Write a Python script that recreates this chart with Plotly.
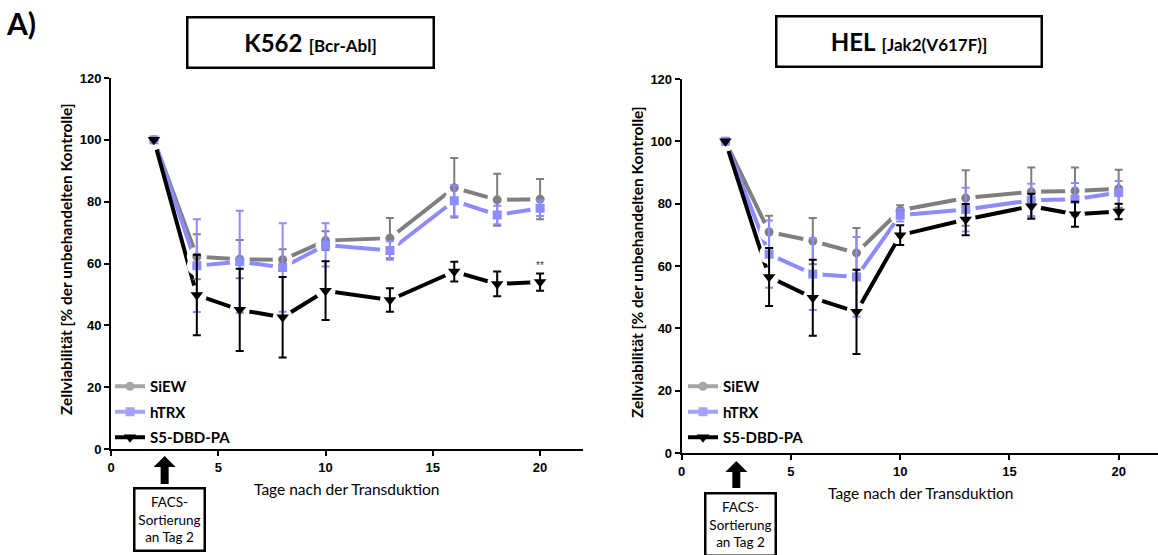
import plotly.graph_objects as go

# --- data -----------------------------------------------------------------
days = [2, 4, 6, 8, 10, 13, 16, 18, 20]
series_names = ["SiEW", "hTRX", "S5-DBD-PA"]

# K562 [Bcr-Abl]
k562_siew = [100, 62.2, 61.4, 61.2, 67.4, 68.2, 84.5, 80.6, 80.8]
k562_siew_err = [0, 7.3, 6.2, 3.4, 3.0, 6.5, 9.6, 8.4, 6.5]
k562_htrx = [100, 59.3, 60.6, 58.7, 66.0, 64.2, 80.3, 75.7, 77.9]
k562_htrx_err = [0, 15.0, 16.5, 14.3, 7.0, 3.0, 5.0, 3.0, 2.5]
k562_s5 = [100, 49.8, 45.0, 42.6, 51.2, 48.2, 57.4, 53.4, 54.0]
k562_s5_err = [0, 13.0, 13.3, 13.0, 9.5, 3.8, 3.2, 4.0, 2.8]

# HEL [Jak2(V617F)]
hel_siew = [100, 70.9, 68.0, 64.2, 77.9, 81.8, 83.8, 84.1, 84.8]
hel_siew_err = [0, 5.2, 7.4, 8.0, 1.6, 8.9, 7.8, 7.5, 6.1]
hel_htrx = [100, 63.8, 57.4, 56.5, 76.3, 78.1, 81.1, 81.4, 83.6]
hel_htrx_err = [0, 10.8, 11.5, 12.8, 2.0, 7.0, 5.3, 5.2, 3.7]
hel_s5 = [100, 56.5, 49.8, 45.3, 69.9, 74.9, 79.2, 76.6, 77.5]
hel_s5_err = [0, 9.3, 12.2, 13.5, 3.2, 5.0, 4.0, 4.0, 2.5]

x_ticks = [0, 5, 10, 15, 20]
y_ticks = [0, 20, 40, 60, 80, 100, 120]
sort_day = 2.5  # FACS sorting marker

# --- styling --------------------------------------------------------------
W, H = 1158, 555
colors = ["#7f7f7f", "#8c8cff", "#000000"]
legend_colors = ["#a6a6a6", "#a3a3ff", "#000000"]
symbols = ["circle", "square", "triangle-down"]
msizes = [9, 9, 11]
LABEL_FONT = "Lato"
TICK_FONT = "Liberation Sans"


def fx(px):
    return px / W


def fy(py):
    return 1 - py / H


fig = go.Figure()

panels = [
    dict(xa="x", ya="y", legend="legend",
         vals=[(k562_siew, k562_siew_err), (k562_htrx, k562_htrx_err), (k562_s5, k562_s5_err)]),
    dict(xa="x2", ya="y2", legend="legend2",
         vals=[(hel_siew, hel_siew_err), (hel_htrx, hel_htrx_err), (hel_s5, hel_s5_err)]),
]

for p in panels:
    # connecting lines
    for i, (v, e) in enumerate(p["vals"]):
        fig.add_trace(go.Scatter(x=days, y=v, mode="lines", xaxis=p["xa"], yaxis=p["ya"],
                                 line=dict(color=colors[i], width=4),
                                 showlegend=False, hoverinfo="skip"))
    # white halos leave a gap in the lines around each point
    for i, (v, e) in enumerate(p["vals"]):
        fig.add_trace(go.Scatter(x=days, y=v, mode="markers", xaxis=p["xa"], yaxis=p["ya"],
                                 marker=dict(color="white", size=20, line=dict(width=0)),
                                 showlegend=False, hoverinfo="skip"))
    # markers with SD error bars
    for i, (v, e) in enumerate(p["vals"]):
        fig.add_trace(go.Scatter(x=days, y=v, mode="markers", xaxis=p["xa"], yaxis=p["ya"],
                                 marker=dict(color=colors[i], symbol=symbols[i], size=msizes[i],
                                             line=dict(width=0)),
                                 error_y=dict(type="data", array=e, visible=True,
                                              color=colors[i], thickness=2, width=4),
                                 name=series_names[i], showlegend=False))
    # legend entries
    for i in range(3):
        fig.add_trace(go.Scatter(x=[None], y=[None], mode="lines+markers",
                                 xaxis=p["xa"], yaxis=p["ya"],
                                 line=dict(color=legend_colors[i], width=4),
                                 marker=dict(color=legend_colors[i], symbol=symbols[i], size=msizes[i]),
                                 name=series_names[i], legend=p["legend"],
                                 legendgroup=f"{p['legend']}_{i}", showlegend=True))

axis_common = dict(showline=True, linewidth=2, linecolor="black", ticks="outside",
                   ticklen=5, tickwidth=2, tickcolor="black", showgrid=False, zeroline=False,
                   tickfont=dict(family=TICK_FONT, size=13, color="black"))
x_ticktext = [f"<b>{t}</b>" for t in x_ticks]
y_ticktext = [f"<b>{t}</b>" for t in y_ticks]

legend_common = dict(xanchor="left", yanchor="top", bgcolor="rgba(0,0,0,0)",
                     font=dict(family=LABEL_FONT, size=15, color="black", weight="bold"),
                     tracegroupgap=3, itemwidth=30)

fig.update_layout(
    width=W, height=H, margin=dict(l=0, r=0, t=0, b=0, autoexpand=False),
    paper_bgcolor="white", plot_bgcolor="white",
    xaxis=dict(domain=[fx(111), fx(583)], range=[0, 22], tickvals=x_ticks, ticktext=x_ticktext,
               anchor="y", **axis_common),
    yaxis=dict(domain=[fy(449), fy(78)], range=[0, 120], tickvals=y_ticks, ticktext=y_ticktext,
               anchor="x", **axis_common),
    xaxis2=dict(domain=[fx(681.7), 1.0], range=[0, 21.8], tickvals=x_ticks, ticktext=x_ticktext,
                anchor="y2", **axis_common),
    yaxis2=dict(domain=[fy(453), fy(79)], range=[0, 120], tickvals=y_ticks, ticktext=y_ticktext,
                anchor="x2", **axis_common),
    legend=dict(x=fx(110), y=fy(370), **legend_common),
    legend2=dict(x=fx(683), y=fy(370), **legend_common),
    showlegend=True,
)

annotations = []


def label(text, cx, cy, **kw):
    d = dict(text=text, x=fx(cx), y=fy(cy), xref="paper", yref="paper", showarrow=False,
             xanchor="center", yanchor="middle")
    d.update(kw)
    annotations.append(d)


# panel label
label("<b>A)</b>", 21, 23, font=dict(family=LABEL_FONT, size=30, color="black"))
# boxed panel titles
for cx, cy, w, h, main, sub in [(310.5, 42.5, 244, 48, "K562", "[Bcr-Abl]"),
                                (909, 41.5, 263, 48, "HEL", "[Jak2(V617F)]")]:
    label(f"<b>{main}</b> <b><span style='font-size:17px'>{sub}</span></b>", cx, cy,
          width=w, height=h, borderwidth=2.5, bordercolor="black", borderpad=0,
          align="center", valign="middle", font=dict(family=LABEL_FONT, size=24, color="black"))
# axis titles
for xt, yt, xy, yy in [(347, 489, 66, 259), (920, 493, 637, 262)]:
    label("Tage nach der Transduktion", xt, yt,
          font=dict(family=LABEL_FONT, size=15.5, color="black"))
    label("<b>Zellviabilität [% der unbehandelten Kontrolle]</b>", xy, yy, textangle=-90,
          font=dict(family=LABEL_FONT, size=15.5, color="black"))
# FACS sorting boxes
for cx, cy in [(169.5, 519.5), (740.7, 524)]:
    label("FACS-<br>Sortierung<br>an Tag 2", cx, cy,
          width=68, height=60, borderwidth=2.5, bordercolor="black", borderpad=0,
          align="center", valign="middle", font=dict(family=LABEL_FONT, size=13.5, color="black"))
# significance mark
annotations.append(dict(text="**", x=20, y=59.5, xref="x", yref="y", showarrow=False,
                        xanchor="center", yanchor="middle",
                        font=dict(family=TICK_FONT, size=10, color="#333355")))
fig.update_layout(annotations=annotations)

# sorting-day arrows (up arrows under the x axis)
shapes = []
for xref, tip, base, per_day in [("x", 456, 484, (583 - 111) / 22),
                                 ("x2", 461, 488, (1158 - 681.7) / 21.8)]:
    xd = sort_day
    hw_head = 11 / per_day
    hw_shaft = 4 / per_day
    neck = tip + 11
    path = (f"M {xd} {fy(tip)} L {xd + hw_head} {fy(neck)} L {xd + hw_shaft} {fy(neck)} "
            f"L {xd + hw_shaft} {fy(base)} L {xd - hw_shaft} {fy(base)} L {xd - hw_shaft} {fy(neck)} "
            f"L {xd - hw_head} {fy(neck)} Z")
    shapes.append(dict(type="path", path=path, xref=xref, yref="paper",
                       fillcolor="black", line=dict(width=0)))
fig.update_layout(shapes=shapes)

fig.write_html("out.html")
